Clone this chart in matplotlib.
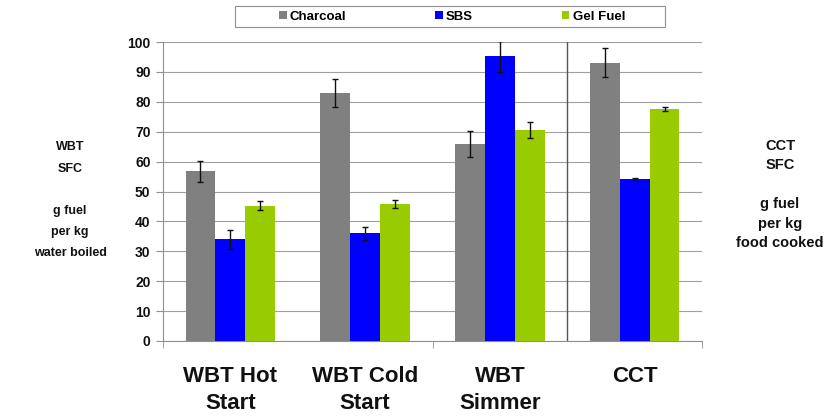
import numpy as np
import matplotlib.pyplot as plt
from matplotlib.patches import Rectangle

plt.rcParams['font.family'] = ['Liberation Sans', 'DejaVu Sans']
plt.rcParams['font.weight'] = 'bold'

categories = ['WBT Hot\nStart', 'WBT Cold\nStart', 'WBT\nSimmer', 'CCT']
series = ['Charcoal', 'SBS', 'Gel Fuel']
charcoal = [56.7, 82.8, 65.9, 93.1]
sbs = [34.0, 36.0, 95.2, 54.1]
gel = [45.3, 45.9, 70.6, 77.6]
charcoal_err = [3.5, 4.7, 4.3, 4.8]
sbs_err = [3.1, 2.2, 5.1, 0.5]
gel_err = [1.6, 1.3, 2.7, 0.6]
colors = ['#808080', '#0000ff', '#99cc00']

values = [charcoal, sbs, gel]
errors = [charcoal_err, sbs_err, gel_err]

fig = plt.figure(figsize=(8.26, 4.16), dpi=100)
ax = fig.add_axes([163/826, 1-341/416, (702-163)/826, (341-42)/416])

x = np.arange(len(categories))
w = 0.222
for i in range(3):
    ax.bar(x + (i-1)*w, values[i], w, color=colors[i], label=series[i],
           yerr=errors[i], capsize=2, zorder=3,
           error_kw=dict(ecolor='#111111', elinewidth=1, capthick=1))

ax.set_xlim(-0.5, 3.5)
ax.set_ylim(0, 100)
ax.set_yticks(range(0, 101, 10))
ax.yaxis.grid(True, color='#a0a0a0', linewidth=0.8, zorder=0)
ax.axvline(2.5, color='#555555', linewidth=1, zorder=2)

for s in ['top', 'right']:
    ax.spines[s].set_visible(False)
for s in ['left', 'bottom']:
    ax.spines[s].set_color('#909090')

ax.set_xticks(x)
ax.set_xticklabels(categories, fontsize=16, fontweight='bold', color='#111111', linespacing=1.4)
ax.tick_params(axis='x', which='major', length=0, pad=18)
ax.set_xticks([-0.5, 1.5, 3.5], minor=True)
ax.tick_params(axis='x', which='minor', length=5, color='#909090')
ax.tick_params(axis='y', length=5, color='#909090', labelsize=10, labelcolor='#111111', pad=4)
for t in ax.get_yticklabels():
    t.set_fontweight('bold')

# legend in a wide box
fig.patches.append(Rectangle((235/826, 1-27/416), 430/826, 21/416, transform=fig.transFigure,
                             facecolor='white', edgecolor='#909090', linewidth=0.8))
fig.legend(loc='center', bbox_to_anchor=(452/826, 1-16.5/416), ncol=3, frameon=False,
           fontsize=9.5, handlelength=0.6, handleheight=0.6, handletextpad=0.25,
           columnspacing=6.7, borderpad=0)

fig.text(70/826, 1-200/416, 'WBT\nSFC\n\ng fuel\nper kg\nwater boiled', ha='center', va='center',
         fontsize=9, fontweight='bold', color='#111111', linespacing=2.0)
fig.text(780/826, 1-194.5/416, 'CCT\nSFC\n\ng fuel\nper kg\nfood cooked', ha='center', va='center',
         fontsize=10.5, fontweight='bold', color='#111111', linespacing=1.5)

fig.savefig('out.png', dpi=100)
